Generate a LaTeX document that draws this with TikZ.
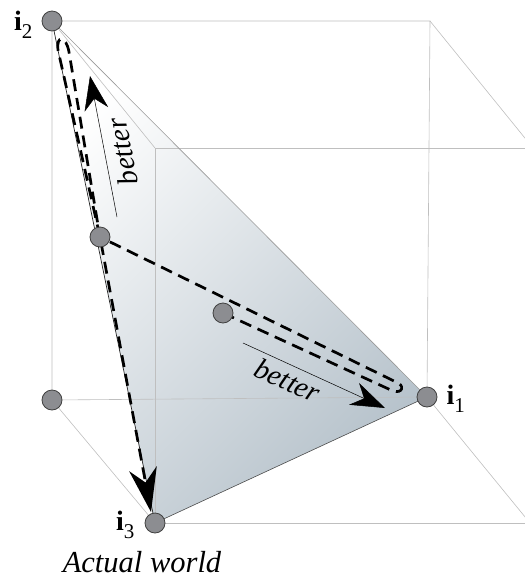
\documentclass[tikz,border=0pt]{standalone}
\usepackage{fontspec}
\setmainfont{Liberation Serif}
\usetikzlibrary{arrows.meta,positioning,calc,backgrounds}
\definecolor{dotgray}{RGB}{140,141,145}
\definecolor{faceblue}{RGB}{182,194,203}
\newcommand{\ilab}[1]{{\fontsize{28}{28}\selectfont\bfseries i}\raisebox{-8pt}{\fontsize{21}{21}\selectfont #1}}

\begin{document}
\begin{tikzpicture}[
  x=1pt, y=-1pt,
  font=\fontsize{29}{32}\selectfont\itshape,
  edge/.style={draw=gray!50,line width=0.6pt},
  dot/.style={circle,draw=black!75,fill=dotgray,line width=0.8pt,minimum size=20pt,inner sep=0pt},
  walk/.style={line width=2.7pt,dash pattern=on 12pt off 7pt,-{Stealth[length=44pt,width=28pt,inset=14pt]}},
  hint/.style={line width=0.5pt,-{Stealth[length=34pt,width=24pt,inset=11pt]}},
  lab/.style={font=\upshape,inner sep=0pt}
]
\useasboundingbox (0,0) rectangle (525,579);
\clip (0,0) rectangle (525,579);

% corners of the simplex and points on it
\node[dot] (i2) at (52,21) {};
\node[dot] (i1) at (427,397) {};
\node[dot] (i3) at (155,523) {};
\node[dot] (o) at (52,400) {};
\node[dot] (m) at (100,237) {};
\node[dot] (c) at (223,313) {};

% remaining cube corners
\coordinate (ftr) at (430,21);
\coordinate (btl) at (155,148);
\coordinate (btr) at (533,148);
\coordinate (bbr) at (530,523);

\node[lab,anchor=base east] (l2) at ([xshift=-9pt,yshift=-9pt]i2.west) {\ilab{2}};
\node[lab,anchor=base west] (l1) at ([xshift=9pt,yshift=-7pt]i1.east) {\ilab{1}};
\node[lab,anchor=base east] (l3) at ([xshift=-10pt,yshift=-7pt]i3.west) {\ilab{3}};
\node[anchor=base,inner sep=0pt,font=\fontsize{30.5}{34}\selectfont\itshape] (aw) at ([xshift=-13pt,yshift=-49pt]i3.center) {Actual world};

\begin{scope}[on background layer]
\shade[top color=white,bottom color=faceblue,shading angle=45] (i2.center) -- (i1.center) -- (i3.center) -- cycle;

% cube
\draw[edge] (i2) -- (ftr) -- (i1);
\draw[edge] (i2) -- (o) -- (i1);
\draw[edge] (btl) -- (btr);
\draw[edge] (btl) -- (i3) -- (bbr);
\draw[edge] (i2) -- (btl);
\draw[edge] (ftr) -- (btr);
\draw[edge] (o) -- (i3);
\draw[edge] (i1) -- (bbr);

% simplex
\draw[gray!80,line width=0.6pt] (i2.center) -- (i1.center);
\draw[black!70,line width=0.6pt] (i1.center) -- (i3.center);
\draw[black!85,line width=0.7pt] (i2.center) -- (i3.center);

% path of the world
\draw[walk] (c.center) -- (393,391) .. controls (403,394) and (405,385) .. (396,382)
  -- (m.center) -- (69,52) .. controls (66,35) and (56,35) .. (58,50)
  -- (m.center) -- (151,512);

% better directions
\coordinate (h1a) at (117,217);
\coordinate (h1b) at (90,76);
\coordinate (h2a) at (243,343);
\coordinate (h2b) at (385,408);
\draw[hint] (h1a) -- node[sloped,allow upside down,below=7pt,pos=0.44,inner sep=0pt] (b1) {better} (h1b);
\draw[hint] (h2a) -- node[sloped,below=5pt,pos=0.36,inner sep=0pt] (b2) {better} (h2b);
\end{scope}
\end{tikzpicture}
\end{document}
